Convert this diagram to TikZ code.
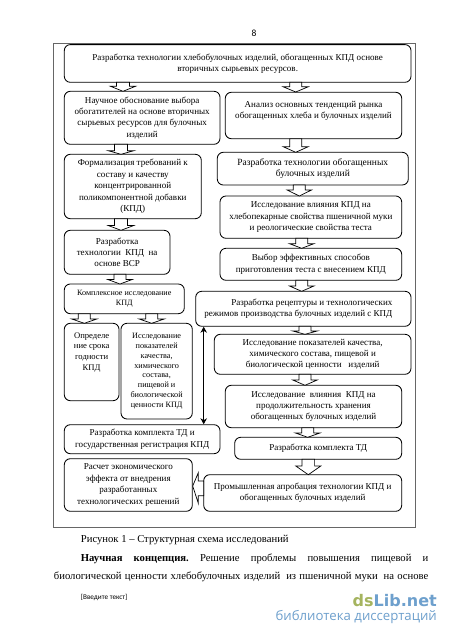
\documentclass[tikz,border=0pt]{standalone}
\usepackage{fontspec}
\setmainfont{Liberation Serif}
\newfontfamily\calfont{Carlito}
\newfontfamily\wmfont{DejaVu Sans}
\newfontfamily\wmsub{Open Sans}
\usetikzlibrary{arrows.meta}
\newcommand{\fz}[2]{\fontsize{#1}{#2}\selectfont}
\definecolor{wmblue}{RGB}{110,160,205}
\definecolor{wmgreen}{RGB}{165,180,95}
\tikzset{
  stagebox/.style={draw=black,line width=0.85pt,rounded corners=6pt,align=center,inner sep=0pt,font=\fz{9.05}{11.4}},
  tinybox/.style={font=\fz{8.2}{9.8}},
  flowarrow/.style={draw=black,line width=0.7pt,fill=white},
  plaintext/.style={inner sep=0pt,anchor=base west},
}
% \bx[options]{name}{x1}{y1}{x2}{y2}{text}
\newcommand{\bx}[7][]{%
  \pgfmathsetmacro{\cxa}{(#3+#5)/2}\pgfmathsetmacro{\cya}{(#4+#6)/2}%
  \pgfmathsetmacro{\wa}{#5-#3}\pgfmathsetmacro{\ha}{#6-#4}%
  \node[stagebox,minimum width=\wa pt,minimum height=\ha pt,#1] (#2) at (\cxa,\cya) {#7};}
% \dn{x}{ytop}{ybottom}{shaft half}{head half}{y of head start}
\newcommand{\dn}[6]{%
  \draw[flowarrow] ({#1-#4},#2) -- ({#1+#4},#2) -- ({#1+#4},#6) -- ({#1+#5},#6) -- (#1,#3) -- ({#1-#5},#6) -- ({#1-#4},#6) -- cycle;}
\begin{document}
\begin{tikzpicture}[x=1pt,y=-1pt]
\useasboundingbox (0,0) rectangle (450,637);
\fill[white] (0,0) rectangle (450,637);
\node[inner sep=0pt,font=\calfont\fz{9.5}{11}] (pnum) at (254,33) {8};
\node[draw=black!60,line width=0.9pt,minimum width=362.7pt,minimum height=484pt,inner sep=0pt] (frame) at (234.35,285) {};

\bx{top}{64.3}{44.6}{411}{82.3}{Разработка технологии хлебобулочных изделий, обогащенных КПД основе\\вторичных сырьевых ресурсов.}
\bx{sci}{64.3}{91.3}{220}{144.3}{Научное обоснование выбора\\обогатителей на основе вторичных\\сырьевых ресурсов для булочных\\изделий}
\bx{mkt}{225.3}{92.3}{401.7}{138.7}{Анализ основных тенденций рынка\\обогащенных хлеба и булочных изделий\\ \mbox{}}
\bx{form}{64.3}{154.3}{201.3}{218.7}{Формализация требований к\\составу и качеству\\концентрированной\\поликомпонентной добавки\\(КПД)}
\bx[font=\fz{9.5}{11.4}]{dev}{217.3}{152.3}{408.3}{185}{Разработка технологии обогащенных\\булочных изделий}
\bx{infl}{220}{196}{401.7}{238.3}{Исследование влияния КПД на\\хлебопекарные свойства пшеничной муки\\и реологические свойства теста}
\bx{kpd}{64.3}{230.3}{170}{274.3}{Разработка\\технологии\ \ КПД\ \ на\\основе ВСР}
\bx{sel}{220}{248.3}{401.7}{280.3}{Выбор эффективных способов\\приготовления теста с внесением КПД}
\bx[font=\fz{8.1}{10.5}]{cmp}{64.3}{284}{184.3}{313.7}{Комплексное исследование\\КПД}
\bx{rec}{195.7}{291.3}{411}{326.3}{\hspace*{17pt}Разработка рецептуры и технологических\\режимов производства булочных изделий с КПД\hspace*{10pt}}
\bx[font=\fz{8.6}{10.6}]{shelf}{64.3}{323.3}{119}{400.7}{Определе\\ние срока\\годности\\КПД\\ \mbox{}\\ \mbox{}}
\bx[tinybox]{qual}{121}{323.3}{192.3}{419}{Исследование\\показателей\\качества,\\химического\\состава,\\пищевой и\\биологической\\ценности КПД}
\bx{ind}{214.3}{334.3}{411}{374.3}{Исследование показателей качества,\\химического состава, пищевой и\\биологической ценности\ \ \ изделий}
\bx{stor}{225.3}{385.3}{401.7}{427.7}{Исследование\ \ влияния\ \ КПД на\\продолжительность хранения\\обогащенных булочных изделий}
\bx{tdl}{64.3}{424.7}{220}{453.7}{Разработка комплекта ТД и\\государственная регистрация КПД}
\bx{tdr}{234.7}{437.3}{401.7}{459.3}{Разработка комплекта ТД}
\bx{econ}{64.3}{458.7}{192.3}{511.3}{Расчет экономического\\эффекта от внедрения\\разработанных\\технологических решений}
\bx{prom}{203.7}{474.7}{401.7}{511.3}{Промышленная апробация технологии КПД и\\обогащенных булочных изделий}

\dn{123}{82.3}{91.3}{6.5}{12.5}{86.3}
\dn{295.7}{82.3}{92}{6}{12.5}{86.8}
\dn{121}{144.3}{154.3}{6.5}{12.8}{150.7}
\dn{295.7}{138.7}{152.3}{6}{12.5}{146.7}
\dn{299.3}{185}{196}{6}{12.2}{190}
\dn{121}{218.7}{230.3}{6.5}{12.8}{225.5}
\dn{301.7}{238.3}{248.3}{6}{12.2}{243.7}
\dn{120}{274.3}{284}{6}{12.2}{279.5}
\dn{301.7}{280.3}{291.3}{6}{12.2}{286}
\dn{84.3}{313.7}{323.3}{6}{12.5}{319}
\dn{151.7}{313.7}{323.3}{6}{12.5}{319}
\dn{305}{326.3}{334.3}{6}{12.2}{331}
\dn{305}{374.3}{385.3}{6}{12.2}{380}
\dn{307.7}{427.7}{437.3}{6}{12.2}{433}
\dn{308.3}{459.3}{474.7}{6.3}{12.5}{466}
\draw[flowarrow] (203.7,481) -- (198.3,481) -- (198.3,472.7) -- (192.7,486) -- (198.3,503.3) -- (198.3,495.7) -- (203.7,495.7) -- cycle;

\coordinate (dblx) at (203.7,400);
\draw[line width=1.5pt,{Stealth[length=6pt,width=6.5pt]}-{Stealth[length=6pt,width=6.5pt]}] (dblx |- rec.south) -- (dblx |- tdl.north);

\node[plaintext,font=\fz{10.65}{12}] (cap) at (80.7,542.5) {Рисунок 1 – Структурная схема исследований};
\node[plaintext,font=\fz{10.65}{12}] (l1) at (80.7,561) {\hbox to 347.5pt{\textbf{Научная}\hfil\textbf{концепция.}\hfil Решение\hfil проблемы\hfil повышения\hfil пищевой\hfil и}};
\node[plaintext,font=\fz{10.65}{12}] (l2) at (53.7,579) {\hbox to 374.5pt{биологической\hfil ценности\hfil хлебобулочных\hfil изделий\hfil\ из\hfil пшеничной\hfil муки\hfil\ на\hfil основе}};
\node[plaintext,font=\calfont\fz{7.2}{9}] (ph) at (80.7,599) {[Введите текст]};
\node[inner sep=0pt,anchor=base east,font=\wmfont\bfseries\fz{16}{18}] (wm) at (437,606) {\textcolor{wmgreen}{ds}\textcolor{wmblue}{Lib.net}};
\node[inner sep=0pt,anchor=base east,font=\wmsub\fz{13.2}{15},text=wmblue] (wms) at (437,620.5) {библиотека диссертаций};
\end{tikzpicture}
\end{document}
